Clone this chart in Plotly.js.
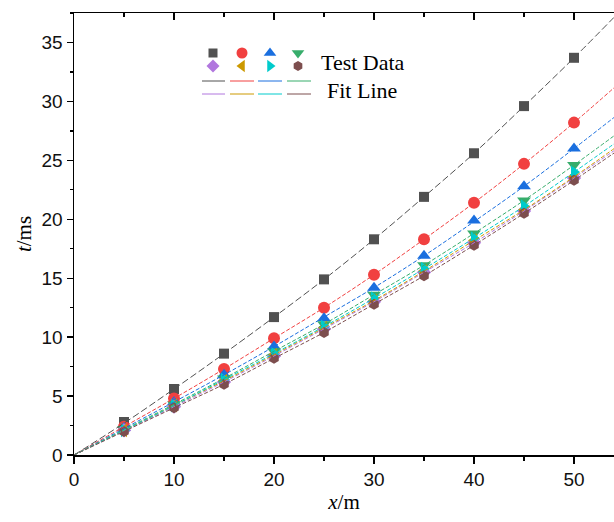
<!DOCTYPE html>
<html>
<head>
<meta charset="utf-8">
<script src="https://cdn.plot.ly/plotly-3.0.1.min.js"></script>
<style>html,body{margin:0;padding:0;background:#fff;}#chart{width:614px;height:522px;}</style>
</head>
<body>
<div id="chart"></div>
<script>
// ---- data ----
const xData = [5, 10, 15, 20, 25, 30, 35, 40, 45, 50];
const sGray   = [2.8, 5.6, 8.6, 11.7, 14.9, 18.3, 21.9, 25.6, 29.6, 33.7];
const sRed    = [2.4, 4.8, 7.3, 9.9, 12.5, 15.3, 18.3, 21.4, 24.7, 28.2];
const sBlue   = [2.3, 4.5, 6.8, 9.2, 11.6, 14.2, 16.9, 19.9, 22.8, 26.0];
const sGreen  = [2.2, 4.3, 6.5, 8.8, 11.1, 13.6, 16.1, 18.8, 21.6, 24.6];
const sPurple = [2.1, 4.1, 6.2, 8.4, 10.7, 13.0, 15.5, 18.0, 20.7, 23.5];
const sGold   = [2.1, 4.2, 6.3, 8.5, 10.8, 13.1, 15.6, 18.2, 20.8, 23.6];
const sCyan   = [2.1, 4.2, 6.4, 8.6, 10.9, 13.3, 15.8, 18.4, 21.1, 24.0];
const sBrown  = [2.0, 4.0, 6.0, 8.2, 10.4, 12.8, 15.2, 17.8, 20.5, 23.3];

const xFit = [0, 5, 10, 15, 20, 25, 30, 35, 40, 45, 50, 55];
const fGray   = [0, 2.7, 5.6, 8.6, 11.7, 14.9, 18.3, 21.9, 25.6, 29.6, 33.7, 38.0];
const fRed    = [0, 2.4, 4.8, 7.3, 9.9, 12.5, 15.3, 18.3, 21.4, 24.7, 28.2, 31.9];
const fBlue   = [0, 2.25, 4.5, 6.8, 9.2, 11.7, 14.2, 16.9, 19.8, 22.8, 26.0, 29.3];
const fGreen  = [0, 2.15, 4.3, 6.5, 8.8, 11.1, 13.6, 16.1, 18.8, 21.6, 24.6, 27.7];
const fPurple = [0, 2.05, 4.1, 6.2, 8.4, 10.7, 13.0, 15.5, 18.0, 20.7, 23.5, 26.4];
const fGold   = [0, 2.1, 4.2, 6.3, 8.5, 10.8, 13.1, 15.6, 18.2, 20.8, 23.6, 26.6];
const fCyan   = [0, 2.1, 4.2, 6.4, 8.6, 10.9, 13.3, 15.8, 18.4, 21.1, 24.0, 27.0];
const fBrown  = [0, 2.0, 4.0, 6.0, 8.2, 10.4, 12.8, 15.2, 17.8, 20.5, 23.3, 26.2];

const xTicks = [0, 10, 20, 30, 40, 50];
const yTicks = [0, 5, 10, 15, 20, 25, 30, 35];
const legendLabels = ['Test Data', 'Fit Line'];

// ---- styles ----
const series = [
  {y: sGray,   f: fGray,   color: '#515151', symbol: 'square',         size: 10, dash: '7px,3px'},
  {y: sRed,    f: fRed,    color: '#F14040', symbol: 'circle',         size: 12, dash: '4px,2px'},
  {y: sBlue,   f: fBlue,   color: '#1A6FDF', symbol: 'triangle-up',    size: 12, dash: '4px,2px'},
  {y: sGreen,  f: fGreen,  color: '#37AD6B', symbol: 'triangle-down',  size: 12, dash: '4px,2px'},
  {y: sPurple, f: fPurple, color: '#B177DE', symbol: 'diamond',        size: 11, dash: '4px,2px'},
  {y: sGold,   f: fGold,   color: '#CC9900', symbol: 'triangle-left',  size: 12, dash: '4px,2px'},
  {y: sCyan,   f: fCyan,   color: '#00CBCC', symbol: 'triangle-right', size: 12, dash: '4px,2px'},
  {y: sBrown,  f: fBrown,  color: '#7D4E4E', symbol: 'hexagon',        size: 11, dash: '4px,2px'}
];

// legend key layout (pixel positions inside the plot frame; decorative key only)
const legendBox = {
  markerCols: [213, 242, 270, 298], markerRows: [53, 66],
  lineCols: [[202, 225], [230, 254], [258, 282], [287, 311]], lineRows: [81, 94],
  textX: [319, 325], textY: [62, 90]
};

const traces = [];
series.forEach(s => {
  traces.push({
    x: xFit, y: s.f, type: 'scatter', mode: 'lines', xaxis: 'x2', yaxis: 'y',
    line: {color: s.color, width: 1, dash: s.dash, shape: 'spline'},
    showlegend: false, hoverinfo: 'skip'
  });
});
series.forEach(s => {
  traces.push({
    x: xData, y: s.y, type: 'scatter', mode: 'markers',
    marker: {color: s.color, symbol: s.symbol, size: s.size, line: {width: 0}},
    showlegend: false
  });
});
// legend keys
series.forEach((s, i) => {
  const c = i % 4, r = Math.floor(i / 4);
  traces.push({
    x: [legendBox.markerCols[c]], y: [legendBox.markerRows[r]], xaxis: 'x3', yaxis: 'y3',
    type: 'scatter', mode: 'markers', showlegend: false, hoverinfo: 'skip',
    marker: {color: s.color, symbol: s.symbol, size: s.size - 1, line: {width: 0}}
  });
  traces.push({
    x: legendBox.lineCols[c], y: [legendBox.lineRows[r], legendBox.lineRows[r]], xaxis: 'x3', yaxis: 'y3',
    type: 'scatter', mode: 'lines', showlegend: false, hoverinfo: 'skip',
    line: {color: s.color, width: 1}
  });
});

const tickFont = {family: 'Arial, "Liberation Sans", sans-serif', size: 19, color: '#111'};
const serif = '"Times New Roman", "Liberation Serif", serif';
const titleFont = {family: serif, size: 21, color: '#000'};
const legFont = {family: serif, size: 22, color: '#000'};

const layout = {
  width: 614, height: 522,
  margin: {l: 74, r: 0, t: 13, b: 67},
  paper_bgcolor: '#fff', plot_bgcolor: '#fff',
  showlegend: false,
  xaxis: {
    range: [0, 54], tickvals: xTicks, ticks: 'outside', ticklen: 7, tickwidth: 1.3,
    tickcolor: '#000', showline: true, linecolor: '#000', linewidth: 1.5,
    showgrid: false, zeroline: false, tickfont: tickFont,
    minor: {dtick: 5, tick0: 0, ticks: 'outside', ticklen: 4, tickwidth: 1.3, tickcolor: '#000'},
    title: {text: '<i>x</i>/m', font: titleFont, standoff: 5}
  },
  xaxis2: {
    range: [0, 54], overlaying: 'x', side: 'top', anchor: 'y', tickvals: xTicks,
    ticks: 'inside', ticklen: 7, tickwidth: 1.3, tickcolor: '#000',
    showline: true, linecolor: '#000', linewidth: 1.5, showticklabels: false,
    showgrid: false, zeroline: false,
    minor: {dtick: 5, tick0: 0, ticks: 'inside', ticklen: 4, tickwidth: 1.3, tickcolor: '#000'}
  },
  yaxis: {
    range: [0, 37.5], tickvals: yTicks, ticks: 'outside', ticklen: 6, tickwidth: 1.3,
    tickcolor: '#000', showline: true, linecolor: '#000', linewidth: 1.5,
    showgrid: false, zeroline: false, tickfont: tickFont,
    minor: {dtick: 2.5, tick0: 0, ticks: 'outside', ticklen: 3, tickwidth: 1.3, tickcolor: '#000'},
    title: {text: '<i>t</i>/ms', font: titleFont, standoff: 4}
  },
  xaxis3: {range: [74, 614], domain: [0, 1], anchor: 'y3', overlaying: 'x', visible: false, fixedrange: true},
  yaxis3: {range: [455, 13], domain: [0, 1], anchor: 'x3', overlaying: 'y', visible: false, fixedrange: true},
  annotations: legendLabels.map((t, i) => ({
    text: t, xref: 'paper', yref: 'paper',
    x: (legendBox.textX[i] - 74) / 540, y: (455 - legendBox.textY[i]) / 442,
    xanchor: 'left', yanchor: 'middle', showarrow: false, font: legFont
  }))
};

Plotly.newPlot('chart', traces, layout, {displayModeBar: false, staticPlot: true});
</script>
</body>
</html>
